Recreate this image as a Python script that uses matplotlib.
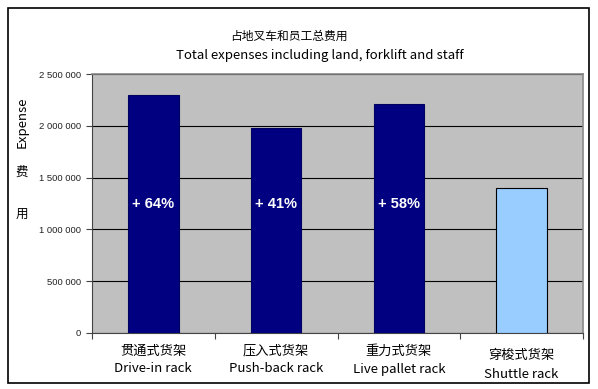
import matplotlib
matplotlib.use("Agg")
import matplotlib.pyplot as plt
from matplotlib.patches import Rectangle

plt.rcParams['font.family'] = ['Noto Sans CJK SC', 'DejaVu Sans']

categories_cn = ["贯通式货架", "压入式货架", "重力式货架", "穿梭式货架"]
categories_en = ["Drive-in rack", "Push-back rack", "Live pallet rack", "Shuttle rack"]
values = [2296000, 1974000, 2212000, 1400000]
bar_labels = ["+ 64%", "+ 41%", "+ 58%", ""]
yticks = [0, 500000, 1000000, 1500000, 2000000, 2500000]
ytick_labels = ["0", "500 000", "1 000 000", "1 500 000", "2 000 000", "2 500 000"]
colors = ["#000080", "#000080", "#000080", "#99CCFF"]

W, H = 598, 389
fig = plt.figure(figsize=(W / 100, H / 100), dpi=100)
fig.patch.set_facecolor("white")

# outer border
fig.add_artist(Rectangle((8 / W, 1 - 383 / H), (589 - 8) / W, (383 - 8) / H,
                         transform=fig.transFigure, fill=False, edgecolor="black", lw=1.2))

x0, x1, y0, y1 = 92, 583, 74, 333
ax = fig.add_axes([x0 / W, 1 - y1 / H, (x1 - x0) / W, (y1 - y0) / H])
ax.set_facecolor("#C0C0C0")
xs = list(range(len(values)))
ax.bar(xs, values, width=0.41, color=colors, edgecolor=["#000060"] * 3 + ["#000000"],
       linewidth=0.8, zorder=3)
ax.set_xlim(-0.5, len(values) - 0.5)
ax.set_ylim(0, 2500000)
ax.set_yticks(yticks)
ax.set_yticklabels(ytick_labels, fontsize=6.8, family=["Liberation Sans"], color="#222222")
ax.yaxis.grid(True, color="black", lw=0.8, zorder=1)
ax.set_xticks([i + 0.5 for i in range(len(values) - 1)] + [-0.5, len(values) - 0.5])
ax.set_xticklabels([])
ax.tick_params(axis="x", length=4, direction="out", color="#444444")
ax.tick_params(axis="y", length=4, direction="out", color="#444444", pad=4)
for s in ["top", "right"]:
    ax.spines[s].set_color("#888888")
    ax.spines[s].set_linewidth(1.2)
for s in ["left", "bottom"]:
    ax.spines[s].set_color("#444444")
    ax.spines[s].set_linewidth(0.8)

for x, v, lab in zip(xs, values, bar_labels):
    if lab:
        ax.text(x, 1250000, lab, ha="center", va="center", color="white",
                fontsize=10.5, fontweight="bold", family=["Liberation Sans"], zorder=4)

for x, cn, en in zip(xs, categories_cn, categories_en):
    off = 5 if x == 3 else 0
    xf = ax.transData.transform((x, 0))[0]
    fig.text(xf / W, 1 - (351 + off) / H, cn, ha="center", va="center", fontsize=9.5)
    fig.text(xf / W, 1 - (369 + off) / H, en, ha="center", va="center", fontsize=9.5)

fig.text(289 / W, 1 - 36 / H, "占地叉车和员工总费用", ha="center", va="center", fontsize=8.5)
fig.text(320 / W, 1 - 56 / H, "Total expenses including land, forklift and staff",
         ha="center", va="center", fontsize=9.5)

fig.text(22 / W, 1 - 122 / H, "Expense", rotation=90, ha="center", va="center", fontsize=9.5)
fig.text(22 / W, 1 - 172 / H, "费", ha="center", va="center", fontsize=9)
fig.text(22 / W, 1 - 215 / H, "用", ha="center", va="center", fontsize=9)

fig.savefig("out.png", dpi=100)
